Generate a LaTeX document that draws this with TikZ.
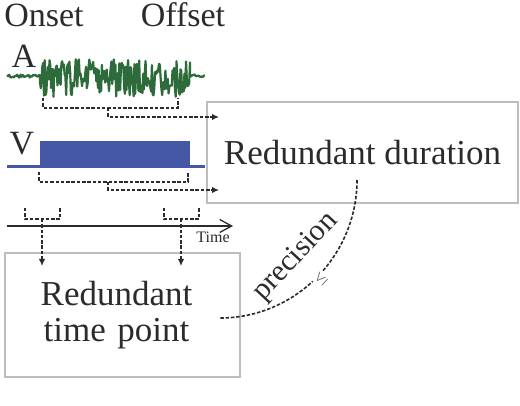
\documentclass[tikz,border=0pt]{standalone}
\usepackage{fontspec}
\setmainfont{Liberation Serif}
\usetikzlibrary{arrows.meta}
\definecolor{ink}{HTML}{2B2B2B}
\definecolor{boxgray}{HTML}{BDBDBD}
\definecolor{wave}{HTML}{2E6B3B}
\definecolor{pulse}{HTML}{4558A6}

\begin{document}
\begin{tikzpicture}[x=1pt, y=-1pt,
    color=ink,
    big/.style={font=\fontsize{34}{36}\selectfont, text=ink, inner sep=0pt},
    boxtext/.style={draw=boxgray, line width=2pt, font=\fontsize{35}{36}\selectfont, text=ink, align=center},
    bracket/.style={dash pattern=on 3.5pt off 1.8pt, line width=1.6pt},
    darrow/.style={bracket, -{Latex[length=7pt,width=6.5pt]}}]
  % fixed 520 x 406 canvas, one unit per pixel
  \path[use as bounding box] (0,0) rectangle (520,406);

  % ================= labels =================
  \node[big, anchor=base] (onset) at (44,27) {Onset};
  \node[big, anchor=base] (offset) at (183,27) {Offset};
  \node[big, anchor=base] (alab) at (24,68) {A};
  \node[big, anchor=base] (vlab) at (22,155) {V};

  % ================= A: audio waveform =================
  \pgfmathsetseed{42}
  \draw[wave, line width=2.2pt, line join=round]
    plot[domain=7:40, samples=30] (\x, {76+1.6*rand})
    -- plot[domain=40:190, samples=190] (\x, {78+19*rand})
    -- plot[domain=190:205, samples=14] (\x, {76+1.6*rand});

  % ================= V: visual pulse =================
  \fill[pulse] (40,141) rectangle (190,167);
  \draw[pulse, line width=3pt] (7,167) -- (205,167);

  % ================= boxes =================
  \node[boxtext, minimum width=311pt, minimum height=101pt] (dur) at (362.5,152.5) {Redundant duration};
  \node[boxtext, minimum width=235pt, minimum height=124pt, text width=200pt] (pt) at (122.5,315) {\hspace*{-12pt}Redundant\\\hspace*{-12pt}time point};

  % ================= time axis =================
  \coordinate (t0) at (7,226);
  \coordinate (t1) at (233,226);
  \draw[line width=1.8pt, -{Straight Barb[length=12pt,width=13pt,line width=1.3pt]}] (t0) -- (t1);
  \node[font=\fontsize{16}{18}\selectfont, anchor=base, inner sep=0pt] (time) at (213,243) {Time};

  % ================= duration brackets -> duration box =================
  \draw[bracket] (43,98) |- (178,108) -- (178,98);
  \coordinate (aMid) at (108,108);
  \coordinate (aIn) at (219,117);
  \draw[darrow] (aMid) |- (aIn);
  \draw[bracket] (39,172) |- (188,182) -- (188,172);
  \coordinate (vMid) at (108,182);
  \coordinate (vIn) at (219,190);
  \draw[darrow] (vMid) |- (vIn);

  % ================= time point brackets -> time point box =================
  \draw[bracket] (25,208) |- (60,219) -- (60,208);
  \coordinate (onMid) at (42,219);
  \coordinate (onIn) at (42,266);
  \draw[darrow] (onMid) -- (onIn);
  \draw[bracket] (164,208) |- (199,219) -- (199,208);
  \coordinate (offMid) at (181,219);
  \coordinate (offIn) at (181,266);
  \draw[darrow] (offMid) -- (offIn);

  % ================= precision relation =================
  \coordinate (precA) at (357,180);
  \coordinate (precB) at (220,318);
  \draw[bracket] (precA) .. controls (357,255.6) and (295.6,318) .. (precB);
  \node[font=\fontsize{30}{32}\selectfont, rotate=47] (prec) at (296,257) {precision};
  \node[fill=white, inner sep=1.5pt, font=\fontsize{14}{14}\selectfont, rotate=47] (leq) at (321,279) {$\leq$};
\end{tikzpicture}
\end{document}
